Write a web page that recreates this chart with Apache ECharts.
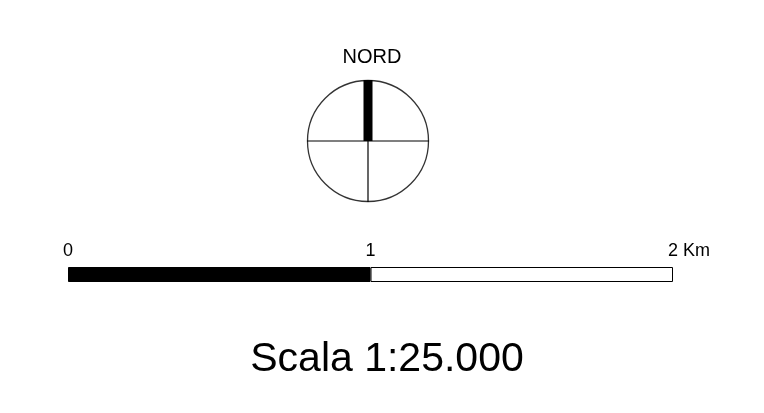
<!DOCTYPE html>
<html>
<head>
<meta charset="utf-8">
<script src="https://cdn.jsdelivr.net/npm/echarts@6/dist/echarts.min.js"></script>
<style>html,body{margin:0;padding:0;background:#fff}#c{width:764px;height:413px}</style>
</head>
<body>
<div id="c"></div>
<script>
// Scale bar data (km)
var segmentNames = ['0-1 km', '1-2 km'];
var segmentValues = [1, 1];
var segmentColors = ['#000000', '#ffffff'];
var tickValues = [0, 1, 2];
var tickLabels = ['0', '1', '2 Km'];
// North arrow (unit circle)
var crossLine = [[-1, 0], [1, 0]];
var southLine = [[0, 0], [0, -1]];
var northNeedle = [[0, 0], [0, 1]];
var circleCenter = [[0, 0]];
var northLabel = 'NORD';
var scaleTitle = 'Scala 1:25.000';

var FONT = '"Liberation Sans", Arial, sans-serif';
var chart = echarts.init(document.getElementById('c'));

var series = segmentValues.map(function (v, i) {
  return {
    name: segmentNames[i], type: 'bar', stack: 'scale',
    xAxisIndex: 0, yAxisIndex: 0,
    barCategoryGap: '0%', data: [v],
    itemStyle: { color: segmentColors[i], borderColor: '#000', borderWidth: 1 }
  };
});
function lineSeries(d, w) {
  return { type: 'line', xAxisIndex: 1, yAxisIndex: 1, data: d, showSymbol: false,
    symbol: 'none', lineStyle: { color: '#000', width: w, cap: 'butt' } };
}
series.push(lineSeries(crossLine, 1.2));
series.push(lineSeries(southLine, 1.2));
series.push(lineSeries(northNeedle, 9));
series.push({ type: 'scatter', xAxisIndex: 1, yAxisIndex: 1, data: circleCenter,
  symbol: 'circle', symbolSize: 121,
  itemStyle: { color: 'rgba(0,0,0,0)', borderColor: '#000', borderWidth: 1.3 } });

chart.setOption({
  animation: false,
  backgroundColor: '#fff',
  title: [
    { text: northLabel, left: 367, top: 42, textAlign: 'center',
      textStyle: { fontFamily: FONT, fontSize: 20, fontWeight: 'normal', color: '#000' } },
    { text: scaleTitle, left: 382, top: 334, textAlign: 'center',
      textStyle: { fontFamily: FONT, fontSize: 41, fontWeight: 'normal', color: '#000' } }
  ],
  grid: [
    { left: 68, top: 267, width: 605, height: 15 },
    { left: 307, top: 80, width: 122, height: 122 }
  ],
  xAxis: [
    { type: 'value', gridIndex: 0, min: 0, max: 2, interval: 1, position: 'top',
      axisLine: { show: false }, axisTick: { show: false }, splitLine: { show: false },
      axisLabel: {
        margin: 7, fontFamily: FONT, fontSize: 18, color: '#000',
        formatter: function (val) {
          var i = tickValues.indexOf(val);
          var t = i >= 0 ? tickLabels[i] : '';
          if (val === tickValues[tickValues.length - 1]) return '{p|}' + t;
          return t;
        },
        rich: { p: { width: 32 } }
      } },
    { type: 'value', gridIndex: 1, min: -1, max: 1, show: false }
  ],
  yAxis: [
    { type: 'category', gridIndex: 0, data: ['scala'], show: false },
    { type: 'value', gridIndex: 1, min: -1, max: 1, show: false }
  ],
  series: series
});
</script>
</body>
</html>
